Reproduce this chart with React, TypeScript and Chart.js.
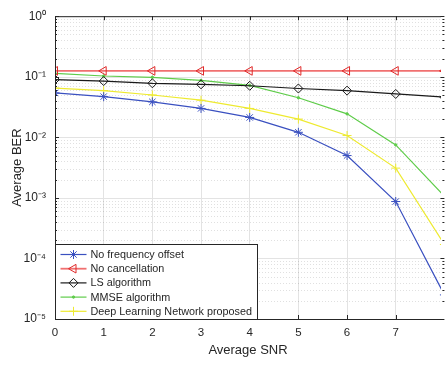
import React, { useEffect, useRef } from "react";
import { Chart, registerables } from "chart.js";
import { drawPoint } from "chart.js/helpers";

Chart.register(...registerables);

const snr = [0, 1, 2, 3, 4, 5, 6, 7, 8];
const xTicks = [0, 1, 2, 3, 4, 5, 6, 7];
const yTickExps = [0, -1, -2, -3, -4, -5];
const yTickLabels = ["10\u2070", "10\u207B\u00B9", "10\u207B\u00B2", "10\u207B\u00B3", "10\u207B\u2074", "10\u207B\u2075"];

const noOffset = [0.054, 0.047, 0.0385, 0.030, 0.0213, 0.0121, 0.0050, 0.00087, 0.000025];
const noCancel = [0.125, 0.125, 0.125, 0.125, 0.125, 0.125, 0.125, 0.125, 0.125];
const lsAlg = [0.090, 0.085, 0.078, 0.075, 0.071, 0.064, 0.059, 0.052, 0.046];
const mmseAlg = [0.114, 0.103, 0.098, 0.087, 0.072, 0.045, 0.0244, 0.0075, 0.00106];
const dlProposed = [0.065, 0.059, 0.050, 0.041, 0.030, 0.020, 0.0107, 0.0031, 0.00017];

const seriesNames = [
  "No frequency offset",
  "No cancellation",
  "LS algorithm",
  "MMSE algorithm",
  "Deep Learning Network proposed",
];

const FONT = "'Liberation Sans', Arial, Helvetica, sans-serif";
const AXIS = "#262626";

function toPts(vals: number[]) {
  return vals.map((v, i) => ({ x: snr[i], y: v }));
}

const framePlugin = {
  id: "matlabFrame",
  beforeDatasetsDraw(chart: any) {
    const { ctx, chartArea: a, scales } = chart;
    const y = scales.y;
    ctx.save();
    ctx.strokeStyle = "rgba(0,0,0,0.12)";
    ctx.lineWidth = 1;
    ctx.setLineDash([1, 2]);
    for (let e = -5; e < 0; e++) {
      for (let m = 2; m <= 9; m++) {
        const py = Math.round(y.getPixelForValue(m * Math.pow(10, e))) + 0.5;
        ctx.beginPath();
        ctx.moveTo(a.left, py);
        ctx.lineTo(a.right, py);
        ctx.stroke();
      }
    }
    ctx.setLineDash([]);
    ctx.strokeStyle = "#e3e3e3";
    for (const e of yTickExps) {
      const py = Math.round(y.getPixelForValue(Math.pow(10, e))) + 0.5;
      ctx.beginPath();
      ctx.moveTo(a.left, py);
      ctx.lineTo(a.right, py);
      ctx.stroke();
    }
    ctx.restore();
  },
  afterDatasetsDraw(chart: any) {
    const { ctx, chartArea: a, scales } = chart;
    const y = scales.y;
    const x = scales.x;
    const rightX = x.getPixelForValue(8);
    ctx.save();
    ctx.strokeStyle = AXIS;
    ctx.lineWidth = 1;
    ctx.beginPath();
    ctx.moveTo(a.left + 0.5, a.top + 0.5);
    ctx.lineTo(a.left + 0.5, a.bottom + 0.5);
    ctx.moveTo(a.left, a.bottom + 0.5);
    ctx.lineTo(a.right, a.bottom + 0.5);
    ctx.moveTo(a.left, a.top + 0.5);
    ctx.lineTo(a.right, a.top + 0.5);
    for (const t of xTicks) {
      const px = Math.round(x.getPixelForValue(t)) + 0.5;
      ctx.moveTo(px, a.bottom);
      ctx.lineTo(px, a.bottom - 4);
      ctx.moveTo(px, a.top);
      ctx.lineTo(px, a.top + 4);
    }
    for (let e = -5; e <= 0; e++) {
      const py = Math.round(y.getPixelForValue(Math.pow(10, e))) + 0.5;
      ctx.moveTo(a.left, py);
      ctx.lineTo(a.left + 4, py);
      ctx.moveTo(rightX, py);
      ctx.lineTo(rightX - 4, py);
      if (e < 0) {
        for (let m = 2; m <= 9; m++) {
          const pm = Math.round(y.getPixelForValue(m * Math.pow(10, e))) + 0.5;
          ctx.moveTo(a.left, pm);
          ctx.lineTo(a.left + 2, pm);
          ctx.moveTo(rightX, pm);
          ctx.lineTo(rightX - 2, pm);
        }
      }
    }
    ctx.stroke();

    // legend
    const lx = a.left + 0.5;
    const lw = 202;
    const lh = 75;
    const ly = a.bottom - lh + 0.5;
    ctx.fillStyle = "#ffffff";
    ctx.fillRect(lx, ly, lw, lh);
    ctx.strokeStyle = AXIS;
    ctx.strokeRect(lx, ly, lw, lh);
    ctx.font = `10.8px ${FONT}`;
    ctx.textBaseline = "middle";
    ctx.textAlign = "left";
    chart.data.datasets.forEach((ds: any, i: number) => {
      const cy = ly + 10 + i * 14.2;
      ctx.strokeStyle = ds.borderColor;
      ctx.lineWidth = ds.borderWidth;
      ctx.beginPath();
      ctx.moveTo(lx + 5, cy);
      ctx.lineTo(lx + 31, cy);
      ctx.stroke();
      ctx.strokeStyle = ds.pointBorderColor;
      ctx.fillStyle = ds.pointBackgroundColor;
      ctx.lineWidth = ds.pointBorderWidth || 1;
      drawPoint(
        ctx,
        {
          pointStyle: ds.pointStyle,
          radius: ds.pointRadius,
          rotation: ds.pointRotation || 0,
          borderWidth: ds.pointBorderWidth || 1,
        } as any,
        lx + 18,
        cy
      );
      ctx.fillStyle = AXIS;
      ctx.fillText(ds.label, lx + 35, cy + 0.5);
    });
    ctx.restore();
  },
};

export default function App() {
  const ref = useRef<HTMLCanvasElement | null>(null);
  useEffect(() => {
    if (!ref.current) return;
    const mk = (
      label: string,
      data: number[],
      color: string,
      pointStyle: string,
      radius: number,
      extra: any = {}
    ) => ({
      label,
      data: toPts(data),
      borderColor: color,
      backgroundColor: color,
      borderWidth: 1.2,
      pointStyle,
      pointRadius: radius,
      pointHoverRadius: radius,
      pointBorderColor: color,
      pointBackgroundColor: "rgba(0,0,0,0)",
      pointBorderWidth: 1,
      tension: 0,
      ...extra,
    });
    const chart = new Chart(ref.current, {
      type: "line",
      data: {
        datasets: [
          mk(seriesNames[0], noOffset, "#3a50c0", "star", 4.5),
          mk(seriesNames[1], noCancel, "#ee4a4a", "triangle", 5, {
            pointRotation: -90,
            borderWidth: 1.8,
            borderColor: "#f07070",
            pointBorderColor: "#e02828",
          }),
          mk(seriesNames[2], lsAlg, "#1a1a1a", "rectRot", 4.5),
          mk(seriesNames[3], mmseAlg, "#5fcc4a", "circle", 1.2, {
            pointBackgroundColor: "#5fcc4a",
          }),
          mk(seriesNames[4], dlProposed, "#eeea30", "cross", 4.5),
        ],
      },
      options: {
        responsive: false,
        animation: false,
        events: [],
        layout: { padding: { left: 0, top: 8, right: 0, bottom: 0 } },
        plugins: {
          legend: { display: false },
          tooltip: { enabled: false },
          title: { display: false },
        },
        scales: {
          x: {
            type: "linear",
            min: 0,
            max: 7.93,
            afterBuildTicks: (s: any) => {
              s.ticks = xTicks.map((v) => ({ value: v }));
            },
            afterFit: (s: any) => {
              s.height = 46;
            },
            grid: { color: "#e3e3e3", drawTicks: false },
            border: { display: false },
            ticks: {
              color: AXIS,
              padding: 7,
              maxRotation: 0,
              autoSkip: false,
              font: { family: FONT, size: 11.5 },
              callback: (v: any) => String(v),
            },
            title: {
              display: true,
              text: "Average SNR",
              color: AXIS,
              font: { family: FONT, size: 13 },
              padding: { top: 0, bottom: 7 },
            },
          },
          y: {
            type: "logarithmic",
            min: 1e-5,
            max: 1,
            afterBuildTicks: (s: any) => {
              s.ticks = yTickExps.map((e) => ({ value: Math.pow(10, e), major: true }));
            },
            afterFit: (s: any) => {
              s.width = 55;
            },
            grid: { display: false, drawTicks: false },
            border: { display: false },
            ticks: {
              color: AXIS,
              padding: 9,
              autoSkip: false,
              font: { family: FONT, size: 12 },
              callback: (v: any) => {
                const e = Math.round(Math.log10(Number(v)));
                const idx = yTickExps.indexOf(e);
                return idx >= 0 ? yTickLabels[idx] : "";
              },
            },
            title: {
              display: true,
              text: "Average BER",
              color: AXIS,
              font: { family: FONT, size: 13 },
              padding: { top: 10, bottom: 0 },
            },
          },
        },
      },
      plugins: [framePlugin],
    } as any);
    return () => chart.destroy();
  }, []);
  return (
    <div style={{ position: "fixed", left: 0, top: 0, width: 447, height: 365, background: "#fff" }}>
      <canvas ref={ref} width={447} height={365} style={{ display: "block" }} />
    </div>
  );
}
